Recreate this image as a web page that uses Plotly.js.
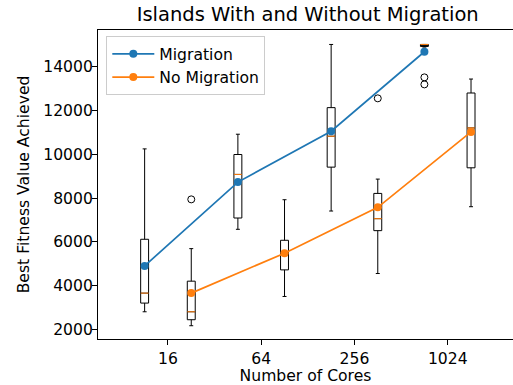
<!DOCTYPE html>
<html>
<head>
<meta charset="utf-8">
<script src="https://cdn.plot.ly/plotly-3.0.1.min.js"></script>
<style>html,body{margin:0;padding:0;background:#fff;}#chart{width:513px;height:385px;}</style>
</head>
<body>
<div id="chart"></div>
<script>
// ---- data ----
const cores = ["16", "64", "256", "1024"];

const migMean   = [4909, 8727, 11045, 14667];
const noMigMean = [3668, 5485, 7576, 11015];

const migQ1     = [3214, 7091, 9409, 14910];
const migMedian = [3668, 9077, 10818, 15000];
const migQ3     = [6122, 9985, 12121, 15000];
const migLow    = [2818, 6576, 7409, 14880];
const migHigh   = [10241, 10909, 15000, 15000];
const migFliers = [[], [], [], [13500, 13180]];

const noMigQ1     = [2455, 4727, 6515, 9379];
const noMigMedian = [2818, 5500, 7061, 11197];
const noMigQ3     = [4213, 6076, 8212, 12788];
const noMigLow    = [2182, 3515, 4561, 7606];
const noMigHigh   = [5695, 7924, 8864, 13424];
const noMigFliers = [[7941], [], [12545], []];

// ---- positions (matplotlib-like boxplot positions 1..8) ----
const migPos   = cores.map((c, i) => 2 * i + 1);
const noMigPos = cores.map((c, i) => 2 * i + 2);
const tickPos  = cores.map((c, i) => 2 * i + 1.5);

const BOXW = 0.17;
const BLUE = "#1f77b4", ORANGE = "#ff7f0e";
const FONT = "DejaVu Sans";

const allPos = migPos.concat(noMigPos);
const allMed = migMedian.concat(noMigMedian);
const boxTrace = {
  type: "box",
  x: allPos,
  q1: migQ1.concat(noMigQ1),
  median: allMed,
  q3: migQ3.concat(noMigQ3),
  lowerfence: migLow.concat(noMigLow),
  upperfence: migHigh.concat(noMigHigh),
  width: BOXW,
  whiskerwidth: 0.5,
  boxpoints: false,
  line: {color: "#000000", width: 1},
  fillcolor: "rgba(0,0,0,0)",
  showlegend: false,
  hoverinfo: "skip"
};

// orange median lines
const medX = [], medY = [];
allPos.forEach((p, i) => {
  medX.push(p - BOXW / 2, p + BOXW / 2, null);
  medY.push(allMed[i], allMed[i], null);
});
const medTrace = {
  type: "scatter", mode: "lines", x: medX, y: medY,
  line: {color: ORANGE, width: 1}, showlegend: false, hoverinfo: "skip"
};

// fliers
const flX = [], flY = [];
migFliers.forEach((arr, i) => arr.forEach(v => { flX.push(migPos[i]); flY.push(v); }));
noMigFliers.forEach((arr, i) => arr.forEach(v => { flX.push(noMigPos[i]); flY.push(v); }));
const flierTrace = {
  type: "scatter", mode: "markers", x: flX, y: flY,
  marker: {symbol: "circle-open", size: 7, color: "#000000", line: {width: 1, color: "#000000"}},
  showlegend: false, hoverinfo: "skip"
};

const migTrace = {
  type: "scatter", mode: "lines+markers", name: "Migration",
  x: migPos, y: migMean,
  line: {color: BLUE, width: 1.7}, marker: {color: BLUE, size: 8}
};
const noMigTrace = {
  type: "scatter", mode: "lines+markers", name: "No Migration",
  x: noMigPos, y: noMigMean,
  line: {color: ORANGE, width: 1.7}, marker: {color: ORANGE, size: 8}
};

const layout = {
  width: 513, height: 385,
  margin: {l: 98, r: 0, t: 30, b: 46, pad: 0},
  paper_bgcolor: "#ffffff", plot_bgcolor: "#ffffff",
  font: {family: FONT, size: 15.6, color: "#000000"},
  title: {
    text: "Islands With and Without Migration",
    font: {family: FONT, size: 19.5, color: "#000000"},
    xref: "container", x: 0.5998, xanchor: "center",
    yref: "container", y: 0.962, yanchor: "middle"
  },
  xaxis: {
    range: [0, 8.9],
    tickmode: "array", tickvals: tickPos, ticktext: cores,
    ticks: "outside", ticklen: 5, tickwidth: 1, tickcolor: "#000",
    showline: true, linecolor: "#000", linewidth: 1, mirror: true,
    showgrid: false, zeroline: false,
    tickfont: {family: FONT, size: 15.6, color: "#000"},
    title: {text: "Number of Cores", font: {family: FONT, size: 15.6, color: "#000"}, standoff: 5}
  },
  yaxis: {
    range: [1577, 15659],
    tickmode: "array", tickvals: [2000, 4000, 6000, 8000, 10000, 12000, 14000],
    tickformat: "d",
    ticks: "outside", ticklen: 5, tickwidth: 1, tickcolor: "#000",
    ticklabelstandoff: -4,
    showline: true, linecolor: "#000", linewidth: 1, mirror: false,
    showgrid: false, zeroline: false,
    tickfont: {family: FONT, size: 15.6, color: "#000"},
    title: {text: "Best Fitness Value Achieved", font: {family: FONT, size: 15.6, color: "#000"}, standoff: 9}
  },
  legend: {
    x: 0.02, y: 0.98, xanchor: "left", yanchor: "top",
    bgcolor: "rgba(255,255,255,0.8)", bordercolor: "#cccccc", borderwidth: 1,
    font: {family: FONT, size: 15.6, color: "#000"},
    itemwidth: 42
  },
  showlegend: true
};

Plotly.newPlot("chart", [boxTrace, medTrace, flierTrace, migTrace, noMigTrace], layout, {staticPlot: true, displayModeBar: false});
</script>
</body>
</html>
